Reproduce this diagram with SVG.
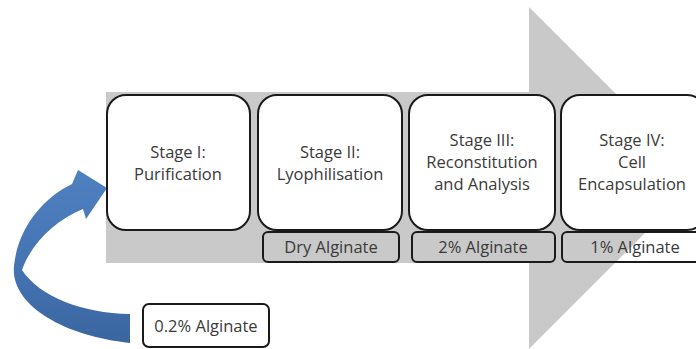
<svg xmlns="http://www.w3.org/2000/svg" width="696" height="349" viewBox="0 0 696 349">
<defs>
<linearGradient id="blue" x1="0" y1="0" x2="0" y2="1">
<stop offset="0" stop-color="#4f80bf"/>
<stop offset="0.55" stop-color="#4574b3"/>
<stop offset="1" stop-color="#3a659f"/>
</linearGradient>
<style>
.stage{fill:#fff;stroke:#1a1a1a;stroke-width:2}
.sub{fill:none;stroke:#1a1a1a;stroke-width:2}
text{font-family:"Open Sans","Liberation Sans",sans-serif;font-size:16.5px;fill:#3a3a3a;text-anchor:middle}
</style>
</defs>
<rect width="696" height="349" fill="#fff"/>
<polygon id="bigarrow" points="106,92 529,92 529,7 700,178 529,349 529,263 106,263" fill="#c9c9c9"/>
<g id="connectors">
<path d="M130 343 C62 336 10 304 14 266 C18 226 45 197 72 184 L78 170 L107 188 L86 219 L83 209 C56 220 32 242 22 270 C40 297 82 313 130 314 Z" fill="url(#blue)"/>
</g>
<g id="stage1"><rect class="stage" x="107" y="95" width="143" height="135" rx="19"/><text x="178" y="158">Stage I:</text><text x="178" y="180">Purification</text></g>
<g id="stage2"><rect class="stage" x="258" y="95" width="144" height="135" rx="19"/><text x="330" y="158">Stage II:</text><text x="330" y="180">Lyophilisation</text></g>
<g id="stage3"><rect class="stage" x="409" y="95" width="146" height="135" rx="19"/><text x="482" y="146">Stage III:</text><text x="482" y="168">Reconstitution</text><text x="482" y="190">and Analysis</text></g>
<g id="stage4"><rect class="stage" x="561" y="95" width="145" height="135" rx="19"/><text x="632" y="146">Stage IV:</text><text x="632" y="168">Cell</text><text x="632" y="190">Encapsulation</text></g>
<g id="dry"><rect class="sub" x="263" y="232" width="136" height="30" rx="5"/><text x="331" y="253">Dry Alginate</text></g>
<g id="two"><rect class="sub" x="412" y="232" width="143" height="30" rx="5"/><text x="483" y="253">2% Alginate</text></g>
<g id="one"><rect class="sub" x="562" y="232" width="140" height="30" rx="5"/><text x="635" y="253">1% Alginate</text></g>
<g id="zero"><rect class="sub" x="143" y="304" width="126" height="43" rx="6"/><text x="206" y="332">0.2% Alginate</text></g>
</svg>
